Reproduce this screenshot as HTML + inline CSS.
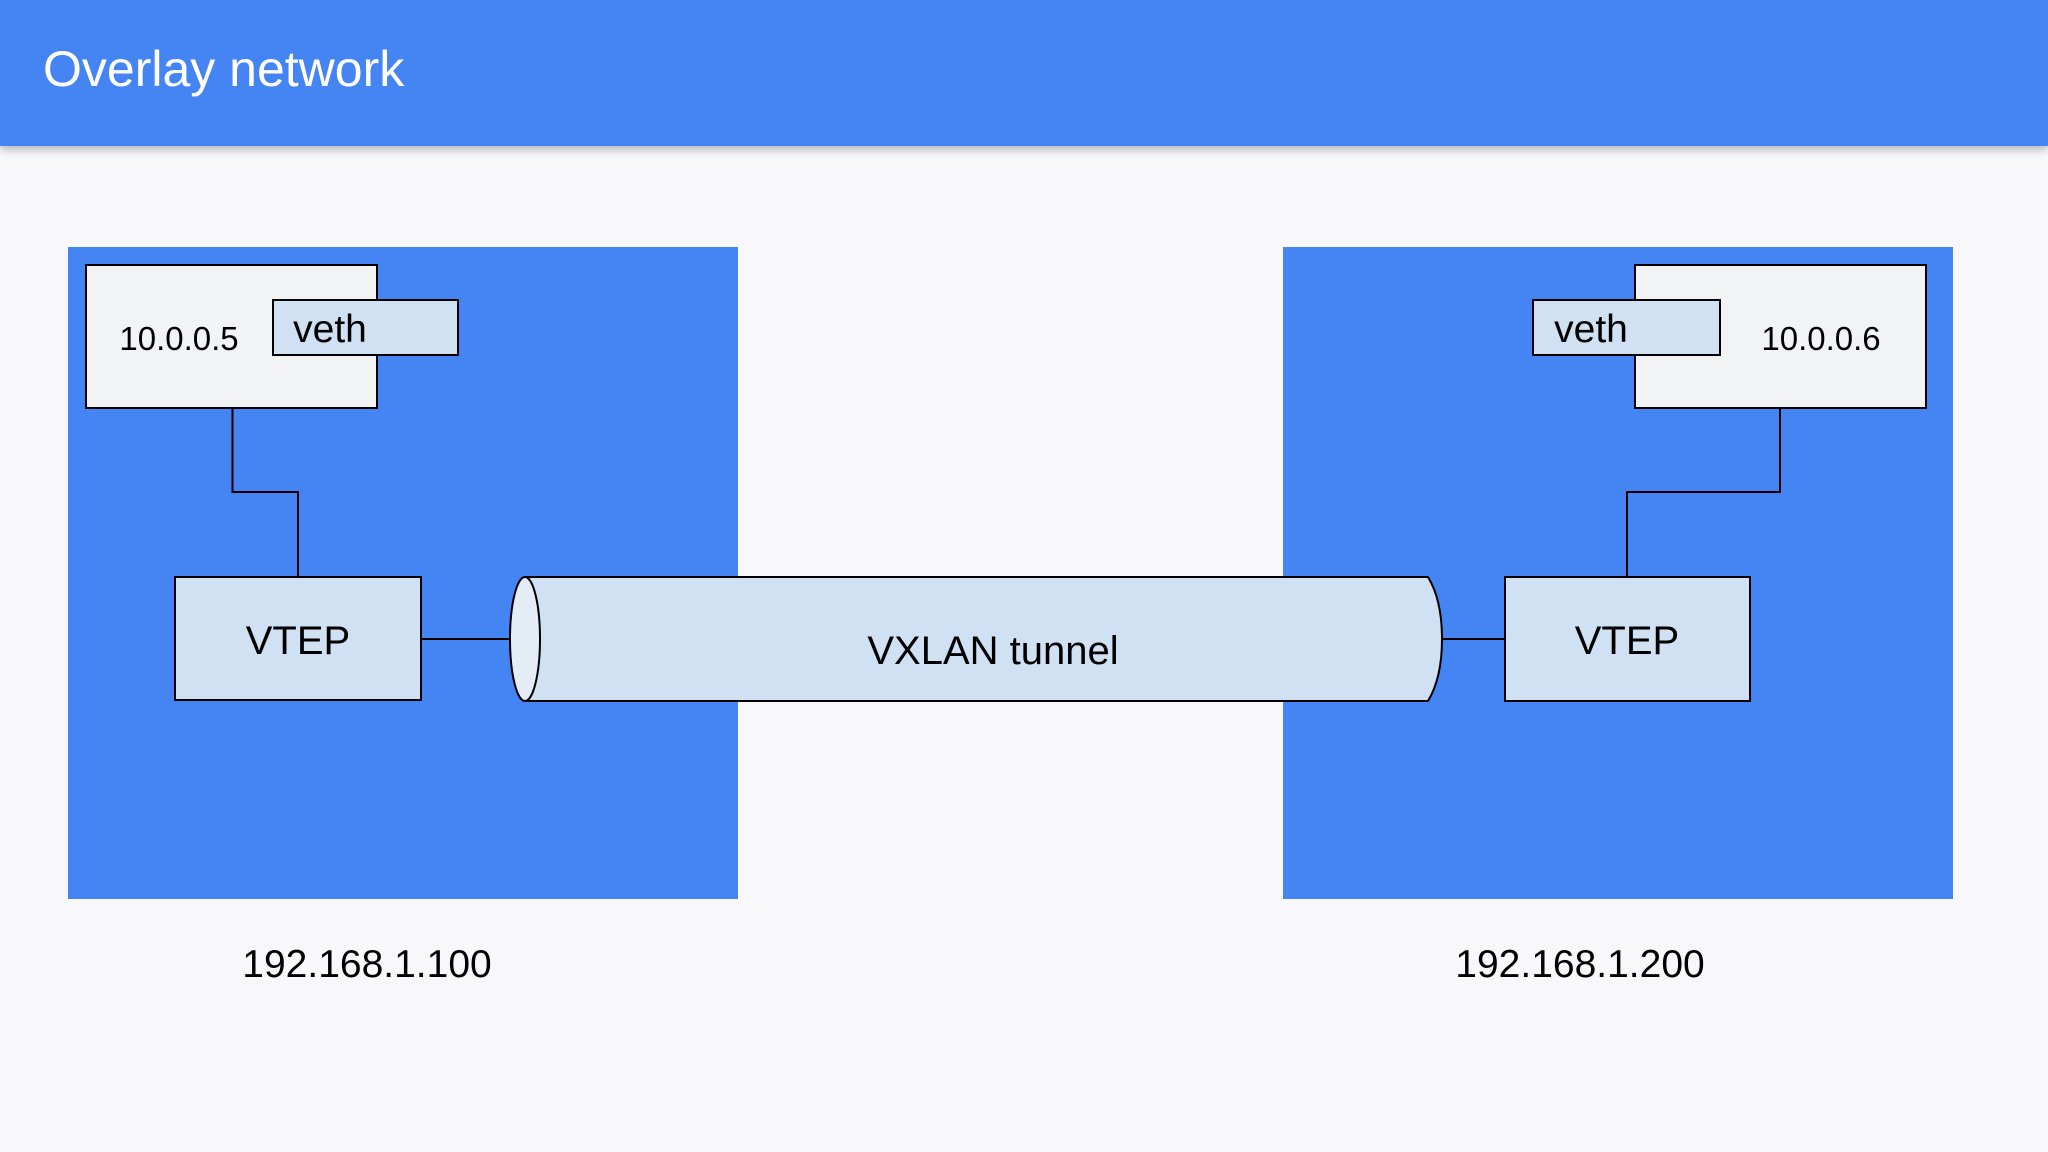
<!DOCTYPE html>
<html><head><meta charset="utf-8"><style>
html,body{margin:0;padding:0;width:2048px;height:1152px;overflow:hidden;background:#f8f8fb;font-family:"Liberation Sans",sans-serif;}
.hdr{position:absolute;left:0;top:0;width:2048px;height:146px;background:#4585f3;box-shadow:0 4px 8px rgba(0,0,0,0.25);}
.hdr span{position:absolute;left:43px;top:40px;font-size:50px;color:#fff;}
</style></head><body>
<div class="hdr"><span>Overlay network</span></div>
<svg width="2048" height="1152" style="position:absolute;left:0;top:0" font-family="Liberation Sans, sans-serif">
<rect x="68" y="247" width="670" height="652" fill="#4585f3"/>
<rect x="1283" y="247" width="670" height="652" fill="#4585f3"/>
<g stroke="#000" stroke-width="2" fill="none">
<polyline points="232.5,408 232.5,492 298,492 298,577"/>
<polyline points="1780,408 1780,492 1627,492 1627,577"/>
<line x1="421" y1="639" x2="511" y2="639"/>
<line x1="1442" y1="639" x2="1505" y2="639"/>
</g>
<rect x="86" y="265" width="291" height="143" fill="#f2f3f5" stroke="#000" stroke-width="2"/>
<rect x="273" y="300" width="185" height="55" fill="#cfe1f3" stroke="#000" stroke-width="2"/>
<rect x="1635" y="265" width="291" height="143" fill="#f2f3f5" stroke="#000" stroke-width="2"/>
<rect x="1533" y="300" width="187" height="55" fill="#cfe1f3" stroke="#000" stroke-width="2"/>
<rect x="175" y="577" width="246" height="123" fill="#cfe1f3" stroke="#000" stroke-width="2"/>
<rect x="1505" y="577" width="245" height="124" fill="#cfe1f3" stroke="#000" stroke-width="2"/>
<path d="M525,577 L1428,577 Q1442,600 1442,639 Q1442,678 1428,701 L525,701" fill="#cfe1f3" stroke="#000" stroke-width="2"/>
<ellipse cx="525" cy="639" rx="15" ry="62" fill="#e4ecf6" stroke="#000" stroke-width="2"/>
<g fill="#000" text-anchor="middle">
<text x="179" y="350" font-size="33">10.0.0.5</text>
<text x="330" y="342" font-size="39">veth</text>
<text x="1821" y="350" font-size="33">10.0.0.6</text>
<text x="1591" y="342" font-size="39">veth</text>
<text x="298" y="654" font-size="40">VTEP</text>
<text x="1627" y="654" font-size="40">VTEP</text>
<text x="993" y="664" font-size="40">VXLAN tunnel</text>
<text x="367" y="977" font-size="39">192.168.1.100</text>
<text x="1580" y="977" font-size="39">192.168.1.200</text>
</g>
</svg>
</body></html>
